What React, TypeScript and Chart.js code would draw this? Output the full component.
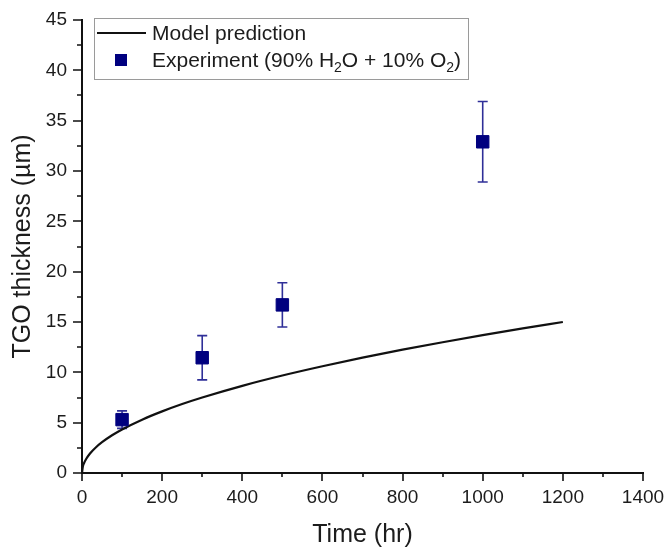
import React, { useEffect, useRef } from "react";
import { Chart, registerables } from "chart.js";

Chart.register(...registerables);

// Model prediction curve
const modelTime = [0, 2, 5, 10, 20, 35, 50, 75, 100, 150, 200, 250, 300, 400, 500, 600, 700, 800, 900, 1000, 1100, 1200];
const modelThickness = [0, 0.61, 0.97, 1.37, 1.94, 2.56, 3.06, 3.75, 4.33, 5.3, 6.12, 6.85, 7.5, 8.66, 9.68, 10.6, 11.46, 12.25, 12.99, 13.69, 14.36, 15.0];

// Experiment (90% H2O + 10% O2)
const expTime = [100, 300, 500, 1000];
const expThickness = [5.3, 11.45, 16.7, 32.9];
const expError = [0.87, 2.2, 2.2, 4.0];

// Axes
const xMin = 0, xMax = 1400, xMajor = 200, xMinor = 100;
const yMin = 0, yMax = 45, yMajor = 5, yMinor = 2.5;

const xTitle = "Time (hr)";
const yTitle = "TGO thickness (\u00B5m)";
const legendModel = "Model prediction";

const FONT = "'Liberation Sans', Arial, Helvetica, sans-serif";
const NAVY = "#00007f";
const ERR = "#2f2f98";
const TEXT = "#1c1c1c";

const errorBarsPlugin = {
  id: "errorBars",
  beforeDatasetsDraw(chart: any) {
    const ctx = chart.ctx;
    const xs = chart.scales.x, ys = chart.scales.y;
    ctx.save();
    ctx.strokeStyle = ERR;
    ctx.lineWidth = 1.6;
    expTime.forEach((t, i) => {
      const x = xs.getPixelForValue(t);
      const yt = ys.getPixelForValue(expThickness[i] + expError[i]);
      const yb = ys.getPixelForValue(expThickness[i] - expError[i]);
      ctx.beginPath();
      ctx.moveTo(x, yt); ctx.lineTo(x, yb);
      ctx.moveTo(x - 5, yt); ctx.lineTo(x + 5, yt);
      ctx.moveTo(x - 5, yb); ctx.lineTo(x + 5, yb);
      ctx.stroke();
    });
    ctx.restore();
  },
};

const ticksPlugin = {
  id: "minorMajorTicks",
  afterDraw(chart: any) {
    const ctx = chart.ctx;
    const xs = chart.scales.x, ys = chart.scales.y;
    const { left, bottom } = chart.chartArea;
    ctx.save();
    ctx.strokeStyle = "#111";
    ctx.lineWidth = 1.6;
    ctx.beginPath();
    for (let v = xMin; v <= xMax + 1e-9; v += xMinor) {
      const px = Math.round(xs.getPixelForValue(v));
      const major = Math.abs(v / xMajor - Math.round(v / xMajor)) < 1e-6;
      ctx.moveTo(px, bottom);
      ctx.lineTo(px, bottom + (major ? 8 : 4));
    }
    for (let v = yMin; v <= yMax + 1e-9; v += yMinor) {
      const py = Math.round(ys.getPixelForValue(v));
      const major = Math.abs(v / yMajor - Math.round(v / yMajor)) < 1e-6;
      ctx.moveTo(left, py);
      ctx.lineTo(left - (major ? 9 : 5), py);
    }
    ctx.stroke();
    ctx.restore();
  },
};

const legendPlugin = {
  id: "customLegend",
  afterDraw(chart: any) {
    const ctx = chart.ctx;
    ctx.save();
    ctx.strokeStyle = "#9a9a9a";
    ctx.lineWidth = 1;
    ctx.strokeRect(94.5, 18.5, 374, 61);
    ctx.strokeStyle = "#111";
    ctx.lineWidth = 2;
    ctx.beginPath();
    ctx.moveTo(97, 33);
    ctx.lineTo(146, 33);
    ctx.stroke();
    ctx.fillStyle = TEXT;
    ctx.textBaseline = "alphabetic";
    ctx.textAlign = "left";
    ctx.font = `21px ${FONT}`;
    ctx.fillText(legendModel, 152, 40);
    ctx.fillStyle = NAVY;
    ctx.fillRect(115, 54, 12, 12);
    ctx.fillStyle = TEXT;
    const base = 67;
    const parts: [string, boolean][] = [
      ["Experiment (90% H", false],
      ["2", true],
      ["O + 10% O", false],
      ["2", true],
      [")", false],
    ];
    let x = 152;
    parts.forEach(([s, sub]) => {
      ctx.font = sub ? `14px ${FONT}` : `21px ${FONT}`;
      ctx.fillText(s, x, sub ? base + 5 : base);
      x += ctx.measureText(s).width;
    });
    ctx.restore();
  },
};

export default function App() {
  const ref = useRef<HTMLCanvasElement | null>(null);

  useEffect(() => {
    document.body.style.margin = "0";
    if (!ref.current) return;
    const chart = new Chart(ref.current, {
      type: "scatter",
      data: {
        datasets: [
          {
            label: "Experiment (90% H2O + 10% O2)",
            data: expTime.map((t, i) => ({ x: t, y: expThickness[i] })),
            pointStyle: "rect",
            pointRadius: 8.8,
            pointBackgroundColor: NAVY,
            pointBorderColor: NAVY,
            pointBorderWidth: 1,
            showLine: false,
          },
          {
            label: legendModel,
            data: modelTime.map((t, i) => ({ x: t, y: modelThickness[i] })),
            showLine: true,
            borderColor: "#111",
            borderWidth: 2.2,
            pointRadius: 0,
            cubicInterpolationMode: "monotone",
          } as any,
        ],
      },
      options: {
        responsive: false,
        animation: false,
        layout: { padding: { left: 0, right: 27, top: 20, bottom: 2 } },
        plugins: { legend: { display: false }, tooltip: { enabled: false } },
        scales: {
          x: {
            type: "linear",
            min: xMin,
            max: xMax,
            grid: { display: false, drawTicks: false },
            border: { display: true, color: "#111", width: 2 },
            ticks: {
              stepSize: xMajor,
              padding: 13,
              color: TEXT,
              font: { family: FONT, size: 19 },
              maxRotation: 0,
              autoSkip: false,
              callback: (v: any) => String(v),
            },
            title: {
              display: true,
              text: xTitle,
              color: TEXT,
              font: { family: FONT, size: 25 },
              padding: 0,
            },
            afterFit(scale: any) {
              scale.height = 77;
              scale.paddingRight = 0;
              scale.paddingLeft = 0;
            },
          },
          y: {
            type: "linear",
            min: yMin,
            max: yMax,
            grid: { display: false, drawTicks: false },
            border: { display: true, color: "#111", width: 2 },
            ticks: {
              stepSize: yMajor,
              padding: 15,
              color: TEXT,
              font: { family: FONT, size: 19 },
              autoSkip: false,
            },
            title: {
              display: true,
              text: yTitle,
              color: TEXT,
              font: { family: FONT, size: 25 },
              padding: { top: 8, bottom: 0 },
            },
            afterFit(scale: any) {
              scale.width = 82;
              scale.paddingTop = 0;
              scale.paddingBottom = 0;
            },
          },
        },
      },
      plugins: [errorBarsPlugin, ticksPlugin, legendPlugin],
    });
    return () => chart.destroy();
  }, []);

  return (
    <div style={{ width: 670, height: 552, background: "#fff" }}>
      <canvas ref={ref} width={670} height={552} style={{ display: "block" }} />
    </div>
  );
}
